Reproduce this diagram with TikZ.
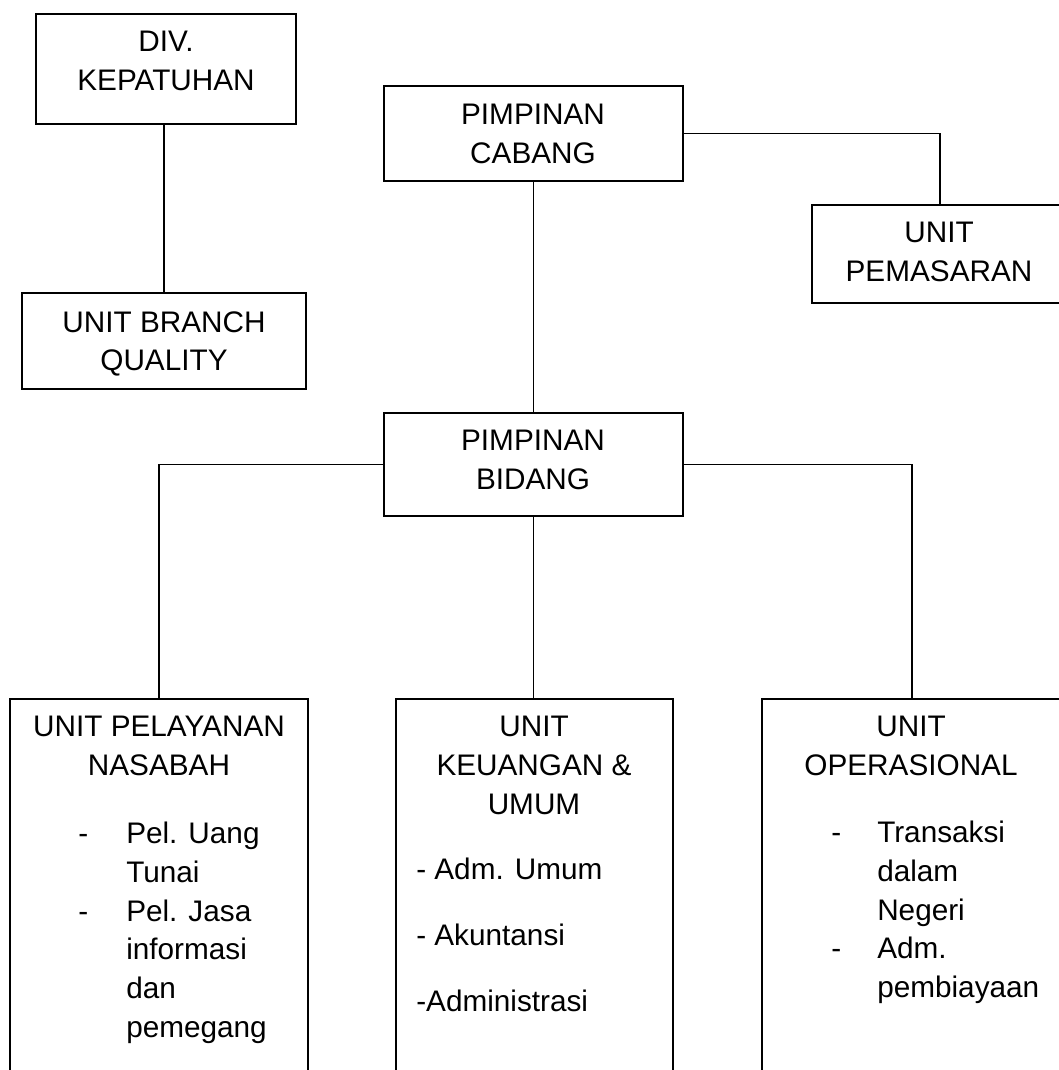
\documentclass[tikz,border=0pt]{standalone}
\usepackage{fontspec}
\setmainfont{Liberation Sans}
\usetikzlibrary{fit}
\begin{document}
\begin{tikzpicture}[x=0.75pt,y=-0.75pt,
  box/.style={draw,line width=1.35pt,inner sep=0pt},
  conn/.style={line width=1.35pt},
  lbl/.style={inner sep=0pt,align=center,anchor=north,font=\fontsize{22.3}{29}\selectfont},
  lst/.style={inner sep=0pt,align=left,anchor=north west,font=\fontsize{22.3}{29}\selectfont}]
\useasboundingbox (0,0) rectangle (1059,1070);
\clip (0,0) rectangle (1059,1070);
% boxes
\node[box,fit={(36,14)(296,124)}] (div) {};
\node[box,fit={(22,293)(306,389)}] (branch) {};
\node[box,fit={(384,86)(683,181)}] (cabang) {};
\node[box,fit={(812,205)(1068,303)}] (pemas) {};
\node[box,fit={(384,413)(683,516)}] (bidang) {};
\node[box,fit={(10,699)(308,1090)}] (pel) {};
\node[box,fit={(396,699)(673,1090)}] (keu) {};
\node[box,fit={(762,699)(1062,1090)}] (ops) {};
% titles
\node[lbl] (tdiv) at (166,31) {DIV.\\KEPATUHAN};
\node[lbl] (tbranch) at (164,311) {UNIT BRANCH\\QUALITY};
\node[lbl] (tcabang) at (533,104) {PIMPINAN\\CABANG};
\node[lbl] (tpemas) at (939,222) {UNIT\\PEMASARAN};
\node[lbl] (tbidang) at (533,430) {PIMPINAN\\BIDANG};
\node[lbl] (tpel) at (159,716) {UNIT PELAYANAN\\NASABAH};
\node[lbl] (tkeu) at (534,716) {UNIT\\KEUANGAN \&\\UMUM};
\node[lbl] (tops) at (911,716) {UNIT\\OPERASIONAL};
% lists
\node[lst] (lpel) at (78,822) {\makebox[36pt][l]{-}Pel. Uang\\\hspace*{36pt}Tunai\\\makebox[36pt][l]{-}Pel. Jasa\\\hspace*{36pt}informasi\\\hspace*{36pt}dan\\\hspace*{36pt}pemegang};
\node[lst] (lkeu) at (416,858) {- Adm. Umum\\[20.5pt]- Akuntansi\\[20.5pt]-Administrasi};
\node[lst] (lops) at (831,821) {\makebox[34.5pt][l]{-}Transaksi\\\hspace*{34.5pt}dalam\\\hspace*{34.5pt}Negeri\\\makebox[34.5pt][l]{-}Adm.\\\hspace*{34.5pt}pembiayaan};
% connectors
\draw[conn] (branch.north |- div.south) -- (branch.north);
\draw[conn] (cabang.south) -- (bidang.north);
\draw[conn] (cabang.east) -| (pemas.north);
\draw[conn] (bidang.west) -| (pel.north);
\draw[conn] (bidang.south) -- (bidang.south |- keu.north);
\draw[conn] (bidang.east) -| (ops.north);
\end{tikzpicture}
\end{document}
